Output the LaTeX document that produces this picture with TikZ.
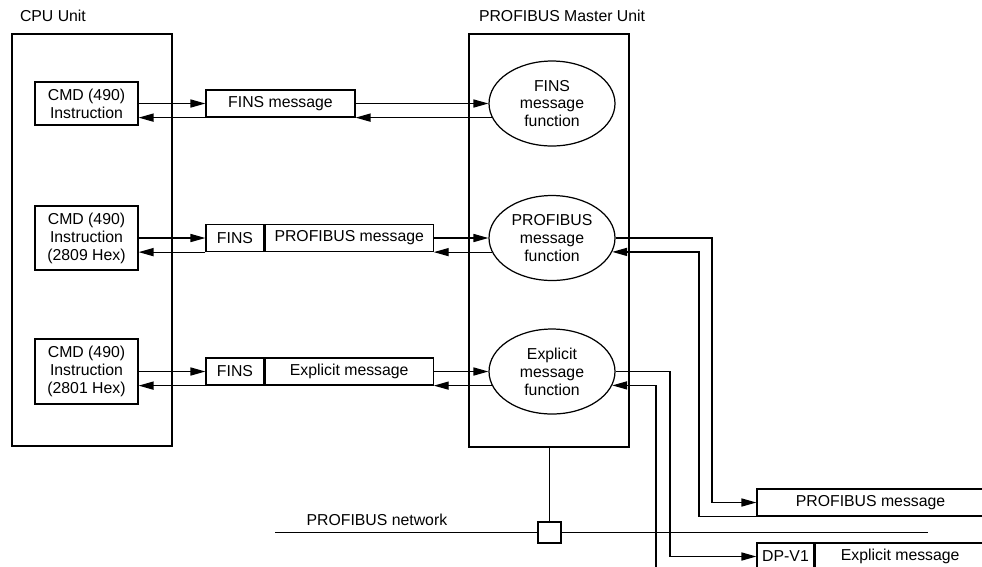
\documentclass[tikz,border=0pt]{standalone}
\usepackage{fontspec}
\setmainfont{Liberation Sans}
\usetikzlibrary{positioning,shapes.geometric,arrows.meta}

\begin{document}
\begin{tikzpicture}[
    x=0.02cm, y=-0.02cm,
    line width=0.7pt,
    every node/.style={font=\fontsize{9}{10.2}\selectfont},
    unit/.style={
        rectangle,
        draw=black,
        minimum width=3.2cm,
        inner sep=0pt
    },
    instr/.style={
        rectangle,
        draw=black,
        minimum width=2.06cm,
        align=center,
        inner sep=0pt
    },
    msg/.style={
        rectangle,
        draw=black,
        minimum height=0.54cm,
        inner sep=0pt
    },
    func/.style={
        ellipse,
        draw=black,
        minimum width=2.52cm,
        minimum height=1.7cm,
        align=center,
        inner sep=0pt
    },
    lbl/.style={inner sep=0pt},
    arr/.style={-{Triangle[length=8.5pt,width=4.6pt]}}
]
    \clip (0,0) rectangle (982,566);

    % Units
    \node[unit, minimum height=8.24cm] (cpu) at (92,240) {};
    \node[unit, minimum height=8.26cm] (master) at (549,240.5) {};
    \node[lbl, above right=0.22cm and 0.16cm of cpu.north west] (cpulbl) {CPU Unit};
    \node[lbl, above right=0.22cm and 0.2cm of master.north west] (mstlbl) {PROFIBUS Master Unit};

    % Instructions
    \node[instr, minimum height=0.86cm] (cmd1) at (86.5,103.5) {CMD (490)\\Instruction};
    \node[instr, minimum height=1.28cm] (cmd2) at (86.5,238) {CMD (490)\\Instruction\\(2809 Hex)};
    \node[instr, minimum height=1.3cm] (cmd3) at (86.5,371.5) {CMD (490)\\Instruction\\(2801 Hex)};

    % Messages
    \node[msg, minimum width=2.98cm] (fins1) at (280.5,103.5) {FINS message};
    \node[msg, minimum width=1.16cm] (fins2) at (235,238) {FINS};
    \node[msg, minimum width=3.36cm, right=0pt of fins2] (pbmsg2) {PROFIBUS message};
    \node[msg, minimum width=1.16cm] (fins3) at (235,371.5) {FINS};
    \node[msg, minimum width=3.36cm, right=0pt of fins3] (exmsg3) {Explicit message};

    % Functions
    \node[func] (fn1) at (552,103.5) {FINS\\message\\function};
    \node[func] (fn2) at (552,238) {PROFIBUS\\message\\function};
    \node[func] (fn3) at (552,371.5) {Explicit\\message\\function};

    % Slave side
    \node[msg, minimum width=4.54cm] (pbmsg) at (870.5,502.5) {PROFIBUS message};
    \node[msg, minimum width=1.14cm] (dpv) at (785.5,556.5) {DP-V1};
    \node[msg, minimum width=3.4cm, right=0pt of dpv] (dpmsg) {Explicit message};

    % Network
    \coordinate (netL) at (275,532.5);
    \coordinate (netR) at (928,532.5);
    \node[rectangle, draw=black, minimum width=0.46cm, minimum height=0.42cm, inner sep=0pt] (tap) at (549.5,532.5) {};
    \node[lbl, above right=0.12cm and 0.62cm of netL] (netlbl) {PROFIBUS network};
    \draw (netL) -- (tap.west);
    \draw (tap.east) -- (netR);
    \draw (tap.north |- master.south) -- (tap.north);

    % Links CPU <-> master
    \draw[arr] (cmd1.east) -- (fins1.west);
    \draw[arr] (fins1.east) -- (fn1.west);
    \draw[arr] (fn1.193 |- fins1.south) -- (fins1.south east);
    \draw[arr] (fins1.south west) -- (cmd1.east |- fins1.south);

    \draw[arr] (cmd2.east) -- (fins2.west);
    \draw[arr] (pbmsg2.east) -- (fn2.west);
    \draw[arr] (fn2.193 |- pbmsg2.south) -- (pbmsg2.south east);
    \draw[arr] (fins2.south west) -- (cmd2.east |- fins2.south);

    \draw[arr] (cmd3.east) -- (fins3.west);
    \draw[arr] (exmsg3.east) -- (fn3.west);
    \draw[arr] (fn3.193 |- exmsg3.south) -- (exmsg3.south east);
    \draw[arr] (fins3.south west) -- (cmd3.east |- fins3.south);

    % Links master <-> slaves
    \coordinate (laneA) at (712,0);
    \coordinate (laneB) at (699,0);
    \coordinate (laneC) at (670,0);
    \coordinate (laneD) at (656,0);
    \draw[arr] (fn2.east) -| (laneA |- pbmsg.west) -- (pbmsg.west);
    \draw[arr] (pbmsg.south west) -| (laneB |- fn2.-13) -- (fn2.-13);
    \draw[arr] (fn3.east) -| (laneC |- dpv.west) -- (dpv.west);
    \draw[arr] (dpv.south west) -| (laneD |- fn3.-13) -- (fn3.-13);
\end{tikzpicture}
\end{document}
